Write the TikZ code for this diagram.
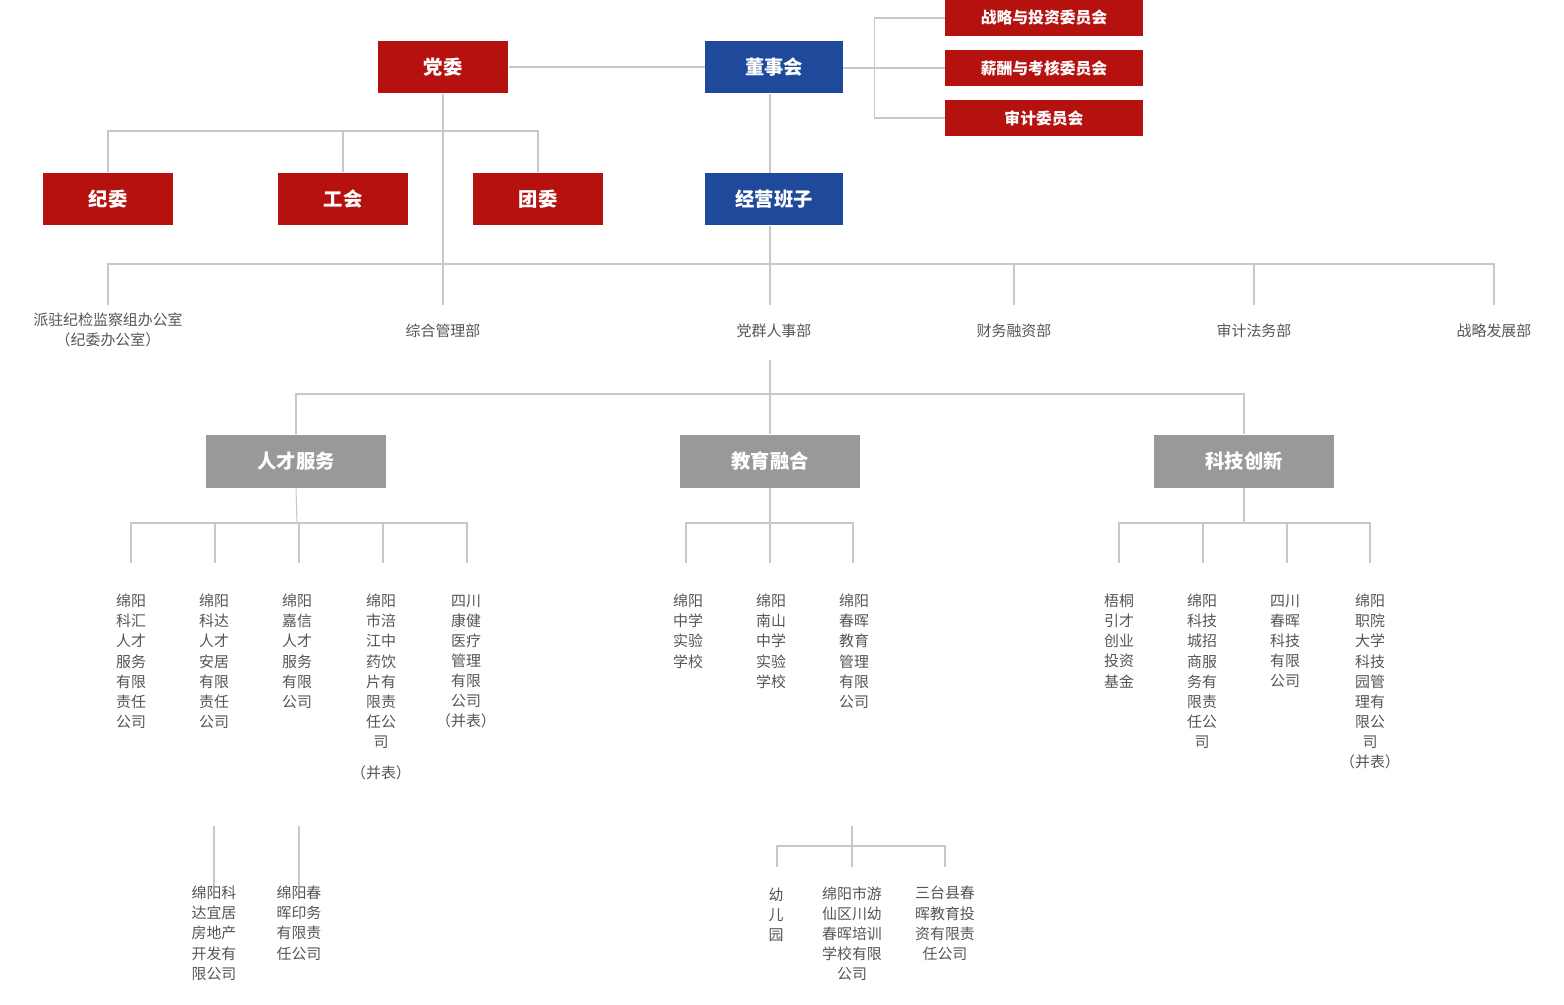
\documentclass[tikz,border=0pt]{standalone}
\usepackage{fontspec}
\setmainfont{Noto Sans CJK SC}
\definecolor{dangred}{HTML}{B5120F}
\definecolor{dongblue}{HTML}{1F4A9C}
\definecolor{boxgray}{HTML}{999999}
\definecolor{lngray}{HTML}{C8C8C8}
\definecolor{txtgray}{HTML}{555555}
\tikzset{
  ln/.style={draw=lngray, line width=0.6pt},
  redbox/.style={fill=dangred, text=white, minimum width=2.62cm, minimum height=1.06cm, font=\fontsize{11}{13}\selectfont\bfseries},
  bluebox/.style={redbox, fill=dongblue, minimum width=2.76cm},
  cmtbox/.style={redbox, minimum width=3.96cm, minimum height=0.74cm, font=\fontsize{9}{11}\selectfont\bfseries},
  graybox/.style={redbox, fill=boxgray, minimum width=3.6cm},
  dept/.style={text=txtgray, font=\fontsize{8.5}{11.4}\selectfont, align=center, inner sep=0pt},
  co/.style={dept, anchor=north}
}
\begin{document}
\begin{tikzpicture}[x=0.02cm, y=-0.02cm]
\useasboundingbox (0,0) rectangle (1564,1004);
% top level
\node[redbox] (dw) at (443,67) {党委};
\node[bluebox] (dsh) at (774,67) {董事会};
\node[cmtbox] (c1) at (1044,18) {战略与投资委员会};
\node[cmtbox] (c2) at (1044,68) {薪酬与考核委员会};
\node[cmtbox] (c3) at (1044,118) {审计委员会};
\draw[ln] (dw.east) -- (dw.east -| dsh.west);
\draw[ln] (dsh.east |- c2) -- (c2.west);
\draw[ln] (c1.west) -- ++(-70,0) coordinate (br) -- (br |- c3) -- (c3.west);

% second level
\node[redbox] (jw) at (108,199) {纪委};
\node[redbox] (gh) at (343,199) {工会};
\node[redbox] (tw) at (538,199) {团委};
\node[bluebox] (jy) at (774,199) {经营班子};
\coordinate (jn1) at (443,131);
\draw[ln] (jw.north) |- (jn1) -| (tw.north);
\draw[ln] (gh.north) -- (gh.north |- jn1);
\draw[ln] (770,94) -- (770,173);

% departments
\node[dept] (d1) at (108,330) {派驻纪检监察组办公室\\（纪委办公室）};
\node[dept] (d2) at (443,331) {综合管理部};
\node[dept] (d3) at (774,331) {党群人事部};
\node[dept] (d4) at (1014,331) {财务融资部};
\node[dept] (d5) at (1254,331) {审计法务部};
\node[dept] (d6) at (1494,331) {战略发展部};
\draw[ln] (dw.south) -- (443,305);
\draw[ln] (770,226) -- (770,305);
\draw[ln] (108,305) -- (108,264) -- (1494,264) -- (1494,305);
\foreach \x in {1014,1254} \draw[ln] (\x,264) -- (\x,305);

% sectors
\node[graybox] (rc) at (296,461) {人才服务};
\node[graybox] (jyrh) at (770,461) {教育融合};
\node[graybox] (kj) at (1244,461) {科技创新};
\draw[ln] (770,360) -- (jyrh.north);
\draw[ln] (rc.north) |- (770,394) -| (kj.north);

% companies
\draw[ln] (rc.south) -- (297,523);
\draw[ln] (131,563) -- (131,523) -- (467,523) -- (467,563);
\foreach \x in {215,299,383} \draw[ln] (\x,523) -- (\x,563);
\node[co] (r1) at (131,594) {绵阳\\科汇\\人才\\服务\\有限\\责任\\公司};
\node[co] (r2) at (214,594) {绵阳\\科达\\人才\\安居\\有限\\责任\\公司};
\node[co] (r3) at (297,594) {绵阳\\嘉信\\人才\\服务\\有限\\公司};
\node[co] (r4) at (381,594) {绵阳\\市涪\\江中\\药饮\\片有\\限责\\任公\\司};
\node[dept] at (381,773) {（并表）};
\node[co] (r5) at (466,594) {四川\\康健\\医疗\\管理\\有限\\公司\\（并表）};

\draw[ln] (jyrh.south) -- (770,563);
\draw[ln] (686,563) -- (686,523) -- (853,523) -- (853,563);
\node[co] (e1) at (688,594) {绵阳\\中学\\实验\\学校};
\node[co] (e2) at (771,594) {绵阳\\南山\\中学\\实验\\学校};
\node[co] (e3) at (854,594) {绵阳\\春晖\\教育\\管理\\有限\\公司};

\draw[ln] (kj.south) -- (1244,523);
\draw[ln] (1119,563) -- (1119,523) -- (1370,523) -- (1370,563);
\foreach \x in {1203,1287} \draw[ln] (\x,523) -- (\x,563);
\node[co] (k1) at (1119,594) {梧桐\\引才\\创业\\投资\\基金};
\node[co] (k2) at (1202,594) {绵阳\\科技\\城招\\商服\\务有\\限责\\任公\\司};
\node[co] (k3) at (1285,594) {四川\\春晖\\科技\\有限\\公司};
\node[co] (k4) at (1370,594) {绵阳\\职院\\大学\\科技\\园管\\理有\\限公\\司\\（并表）};

% subsidiaries
\node[co] (s1) at (214,886) {绵阳科\\达宜居\\房地产\\开发有\\限公司};
\node[co] (s2) at (299,886) {绵阳春\\晖印务\\有限责\\任公司};
\draw[ln] (214,826) -- (s1.north);
\draw[ln] (299,826) -- (s2.north);
\node[co] (s3) at (776,888) {幼\\儿\\园};
\node[co] (s4) at (852,886) {绵阳市游\\仙区川幼\\春晖培训\\学校有限\\公司};
\node[co] (s5) at (945,886) {三台县春\\晖教育投\\资有限责\\任公司};
\draw[ln] (852,826) -- (852,867);
\draw[ln] (777,867) -- (777,846) -- (945,846) -- (945,867);
\end{tikzpicture}
\end{document}
